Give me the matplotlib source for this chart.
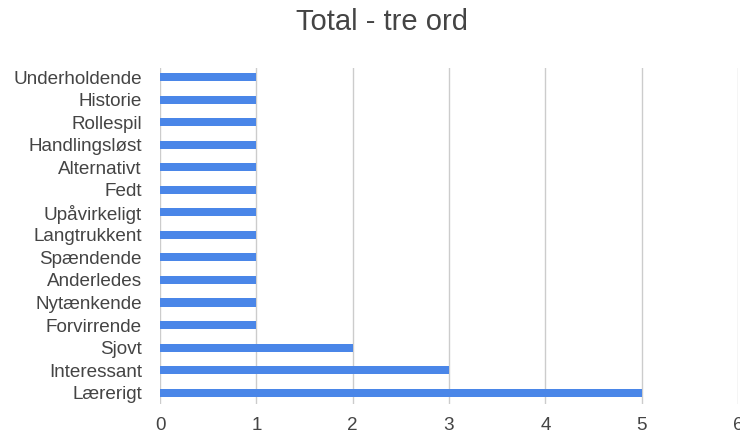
import matplotlib.pyplot as plt

plt.rcParams['font.family'] = ['Liberation Sans', 'DejaVu Sans']

labels = ["Underholdende", "Historie", "Rollespil", "Handlingsløst", "Alternativt",
          "Fedt", "Upåvirkeligt", "Langtrukkent", "Spændende", "Anderledes",
          "Nytænkende", "Forvirrende", "Sjovt", "Interessant", "Lærerigt"]
values = [1, 1, 1, 1, 1, 1, 1, 1, 1, 1, 1, 1, 2, 3, 5]
xticks = [0, 1, 2, 3, 4, 5, 6]

fig = plt.figure(figsize=(7.4, 4.36), dpi=100)
ax = fig.add_axes([160 / 740, 1 - 404 / 436, 578 / 740, 336 / 436])

ypos = list(range(len(labels)))
ax.barh(ypos, values, height=0.36, color='#4a86e8', zorder=3)
ax.set_yticks(ypos)
ax.set_yticklabels(labels)
ax.set_ylim(len(labels) - 0.5, -0.4)
ax.set_xlim(0, 6)
ax.set_xticks(xticks)
ax.grid(axis='x', color='#cccccc', linewidth=1, zorder=0)
for s in ax.spines.values():
    s.set_visible(False)
ax.tick_params(axis='y', length=0, pad=13, labelsize=13.6, labelcolor='#444444')
ax.tick_params(axis='x', length=0, pad=9, labelsize=13.6, labelcolor='#444444')

fig.text(0.516, 0.95, "Total - tre ord", ha='center', va='center', fontsize=21, color='#444444')

fig.savefig("out.png", dpi=100)
